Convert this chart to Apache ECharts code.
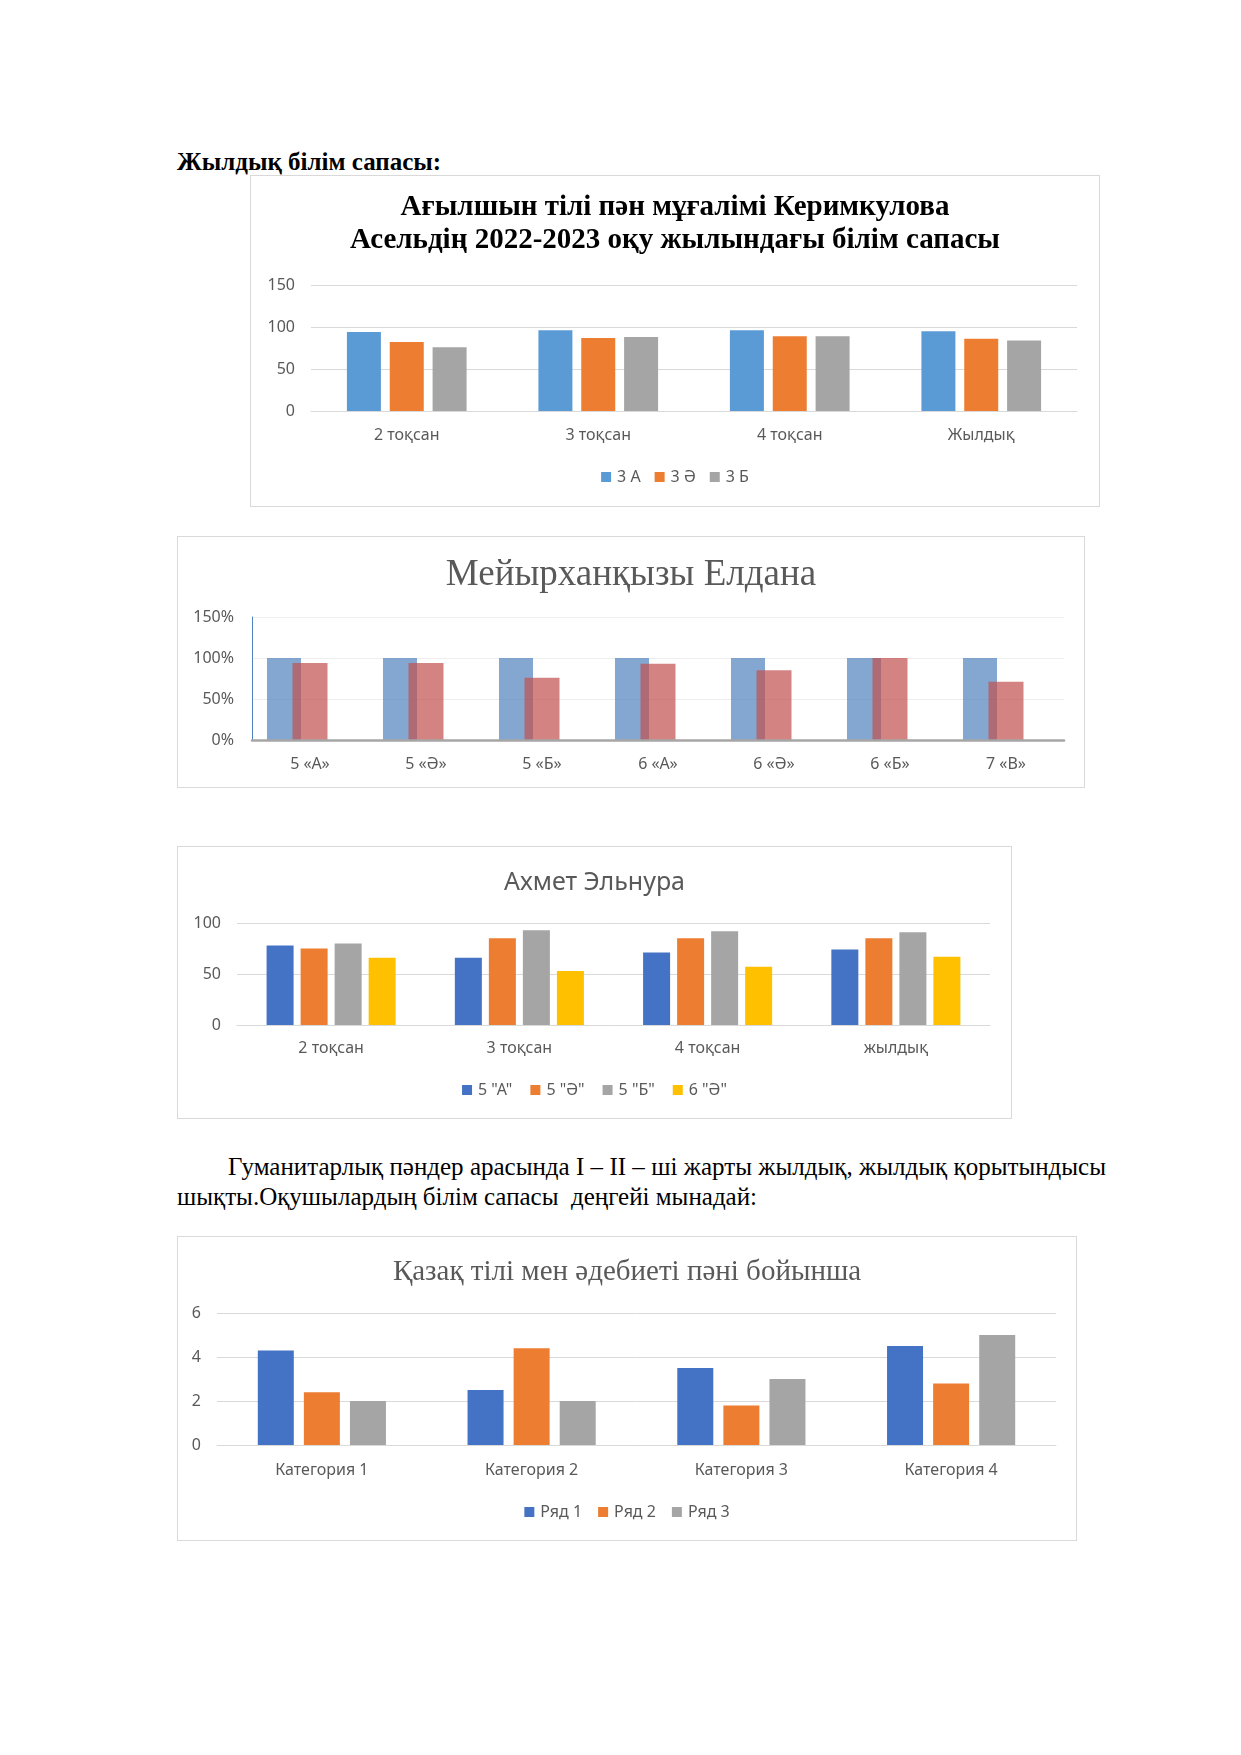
<!DOCTYPE html>
<html><head><meta charset="utf-8">
<script src="https://cdn.jsdelivr.net/npm/echarts@6/dist/echarts.min.js"></script>
<style>
body{margin:0;width:1241px;height:1755px;background:#fff;position:relative;font-family:"Liberation Serif",serif;overflow:hidden;}
.box{position:absolute;border:1px solid #d9d9d9;box-sizing:border-box;}
.txt{position:absolute;color:#000;white-space:nowrap;line-height:30px;font-size:25px;}
</style></head><body>
<div class="txt" style="left:177px;top:147px;font-weight:bold;">Жылдық білім сапасы:</div>
<div class="box" id="c1" style="left:250px;top:175px;width:850px;height:332px"></div>
<div class="box" id="c2" style="left:177px;top:536px;width:908px;height:252px"></div>
<div class="box" id="c3" style="left:177px;top:846px;width:835px;height:273px"></div>
<div class="txt" style="left:228px;top:1152px;width:878px;text-align:justify;text-align-last:justify;white-space:normal;">Гуманитарлық пәндер арасында I – II – ші жарты жылдық, жылдық қорытындысы</div>
<div class="txt" style="left:177px;top:1182px;">шықты.Оқушылардың білім сапасы&nbsp; деңгейі мынадай:</div>
<div class="box" id="c4" style="left:177px;top:1236px;width:900px;height:305px"></div>
<script>
// ---- Chart 1 data ----
const cats1 = ['2 тоқсан', '3 тоқсан', '4 тоқсан', 'Жылдық'];
const names1 = ['3 А', '3 Ә', '3 Б'];
const val1A = [94, 96, 96, 95];
const val1AE = [82, 87, 89, 86];
const val1B = [76, 88, 89, 84];
// ---- Chart 2 data ----
const cats2 = ['5 «А»', '5 «Ә»', '5 «Б»', '6 «А»', '6 «Ә»', '6 «Б»', '7 «В»'];
const plan2 = [100, 100, 100, 100, 100, 100, 100];
const fact2 = [94, 94, 76, 93, 85, 100, 71];
// ---- Chart 3 data ----
const cats3 = ['2 тоқсан', '3 тоқсан', '4 тоқсан', 'жылдық'];
const names3 = ['5 "А"', '5 "Ә"', '5 "Б"', '6 "Ә"'];
const val3A = [78, 66, 71, 74];
const val3AE = [75, 85, 85, 85];
const val3B = [80, 93, 92, 91];
const val3E6 = [66, 53, 57, 67];
// ---- Chart 4 data ----
const cats4 = ['Категория 1', 'Категория 2', 'Категория 3', 'Категория 4'];
const names4 = ['Ряд 1', 'Ряд 2', 'Ряд 3'];
const val4R1 = [4.3, 2.5, 3.5, 4.5];
const val4R2 = [2.4, 4.4, 1.8, 2.8];
const val4R3 = [2, 2, 3, 5];

const SANS = '"Noto Sans", sans-serif';
const SERIF = '"Liberation Serif", serif';
const GREY = '#595959';

function catAxis(cats, margin) {
  return {
    type: 'category', data: cats,
    axisLine: { lineStyle: { color: '#d9d9d9', width: 1 } },
    axisTick: { show: false },
    axisLabel: { color: GREY, fontFamily: SANS, fontSize: 16, margin: margin }
  };
}
function valAxis(max, interval) {
  return {
    type: 'value', min: 0, max: max, interval: interval,
    axisLine: { show: false }, axisTick: { show: false },
    splitLine: { lineStyle: { color: '#d9d9d9', width: 1 } },
    axisLabel: { color: GREY, fontFamily: SANS, fontSize: 16, margin: 16 }
  };
}
function legend(names, top, gap) {
  return {
    data: names, top: top, left: 'center', icon: 'rect',
    itemWidth: 10, itemHeight: 10, itemGap: gap,
    textStyle: { color: GREY, fontFamily: SANS, fontSize: 16, padding: [0, 0, 0, 1] }
  };
}
function bar(name, data, color, w, gap) {
  return { type: 'bar', name: name, data: data, barWidth: w, barGap: gap,
    itemStyle: { color: color }, animation: false };
}

// Chart 1
echarts.init(document.getElementById('c1')).setOption({
  animation: false,
  title: { text: 'Ағылшын тілі пән мұғалімі Керимкулова\nАсельдің 2022-2023 оқу жылындағы білім сапасы',
    left: 'center', top: 10,
    textStyle: { fontFamily: SERIF, fontWeight: 'bold', fontSize: 29, color: '#000', lineHeight: 33, align: 'center' } },
  grid: { left: 60, right: 22, top: 109, bottom: 95 },
  xAxis: catAxis(cats1, 16),
  yAxis: valAxis(150, 50),
  legend: legend(names1, 288, 14),
  series: [
    bar(names1[0], val1A, '#5B9BD5', 34, '26%'),
    bar(names1[1], val1AE, '#ED7D31', 34, '26%'),
    bar(names1[2], val1B, '#A5A5A5', 34, '26%')
  ]
});

// Chart 2
echarts.init(document.getElementById('c2')).setOption({
  animation: false,
  title: { text: 'Мейырханқызы Елдана', left: 'center', top: 15,
    textStyle: { fontFamily: SERIF, fontWeight: 'normal', fontSize: 37, color: GREY } },
  grid: [
    { left: 74, right: 20, top: 80, bottom: 47 },
    { left: 74 - 26, right: 20 + 26, top: 80, bottom: 47 }
  ],
  xAxis: [
    { type: 'category', data: cats2, gridIndex: 0,
      axisLine: { lineStyle: { color: '#a6a6a6', width: 2.5 } }, axisTick: { show: false },
      axisLabel: { color: GREY, fontFamily: SANS, fontSize: 16, margin: 16 }, z: 5 },
    { type: 'category', data: cats2, gridIndex: 1, show: false }
  ],
  yAxis: [
    { type: 'value', min: 0, max: 150, interval: 50, gridIndex: 0,
      axisLine: { show: true, lineStyle: { color: '#4F81BD', width: 1 } }, axisTick: { show: false },
      splitLine: { lineStyle: { color: '#eeeeee', width: 1 } },
      axisLabel: { color: GREY, fontFamily: SANS, fontSize: 16, margin: 18, formatter: '{value}%' } },
    { type: 'value', min: 0, max: 150, interval: 50, gridIndex: 1, show: false, splitLine: { show: false } }
  ],
  series: [
    { type: 'bar', data: plan2, xAxisIndex: 1, yAxisIndex: 1, barWidth: 34,
      itemStyle: { color: 'rgba(79,129,189,0.7)' } },
    { type: 'bar', data: fact2, xAxisIndex: 0, yAxisIndex: 0, barWidth: 35,
      itemStyle: { color: 'rgba(192,80,77,0.7)' } }
  ]
});

// Chart 3
echarts.init(document.getElementById('c3')).setOption({
  animation: false,
  title: { text: 'Ахмет Эльнура', left: 'center', top: 18,
    textStyle: { fontFamily: SANS, fontWeight: 'normal', fontSize: 25, color: GREY } },
  grid: { left: 59, right: 21, top: 76, bottom: 93 },
  xAxis: catAxis(cats3, 15),
  yAxis: valAxis(100, 50),
  legend: legend(names3, 230, 18),
  series: [
    bar(names3[0], val3A, '#4472C4', 27, '26%'),
    bar(names3[1], val3AE, '#ED7D31', 27, '26%'),
    bar(names3[2], val3B, '#A5A5A5', 27, '26%'),
    bar(names3[3], val3E6, '#FFC000', 27, '26%')
  ]
});

// Chart 4
echarts.init(document.getElementById('c4')).setOption({
  animation: false,
  title: { text: 'Қазақ тілі мен әдебиеті пәні бойынша', left: 'center', top: 16,
    textStyle: { fontFamily: SERIF, fontWeight: 'normal', fontSize: 29, color: GREY } },
  grid: { left: 39, right: 20, top: 76, bottom: 95 },
  xAxis: catAxis(cats4, 17),
  yAxis: valAxis(6, 2),
  legend: legend(names4, 262, 16),
  series: [
    bar(names4[0], val4R1, '#4472C4', 36, '28%'),
    bar(names4[1], val4R2, '#ED7D31', 36, '28%'),
    bar(names4[2], val4R3, '#A5A5A5', 36, '28%')
  ]
});
</script>
</body></html>
